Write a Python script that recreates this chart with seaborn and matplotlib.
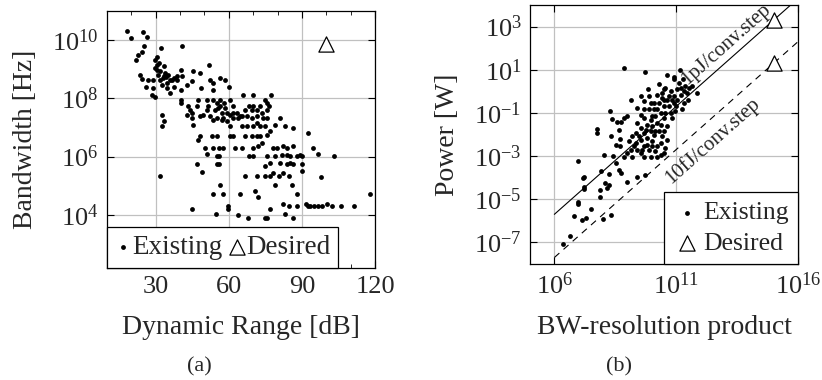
import numpy as np
import pandas as pd
import matplotlib
matplotlib.use("Agg")
import matplotlib.pyplot as plt
import matplotlib.ticker as mticker
import seaborn as sns

# ---------------- data: panel (a) ----------------
dr_existing = [
    18.2, 19.9, 24.9, 26.3, 25.1, 24.5, 22.9, 21.9, 32.1, 40.7, 29.9, 30.7, 31.5, 29.8, 30.4, 33.2, 33.8,
    23.6, 27.0, 25.9, 29.0, 28.4, 29.8, 31.8, 32.5, 34.5, 35.9, 33.2, 31.1, 40.3, 38.9, 40.9, 34.5, 40.3,
    37.3, 45.5, 48.0, 51.9, 44.8, 42.7, 52.3, 53.7, 56.4, 58.5, 59.9, 48.6, 53.7, 40.3, 40.3, 43.4, 44.1,
    42.7, 44.8, 45.5, 47.5, 46.8, 48.2, 44.8, 32.4, 33.2, 32.5, 31.8, 51.0, 51.6, 53.7, 55.0, 56.4, 54.3,
    57.0, 52.3, 55.0, 57.7, 53.7, 59.2, 60.5, 61.9, 63.3, 61.9, 64.7, 66.7, 68.1, 70.1, 71.5, 72.8, 74.9,
    75.6, 76.3, 77.2, 66.0, 70.1, 67.3, 69.4, 71.5, 74.2, 75.6, 65.3, 67.3, 70.1, 72.8, 74.9, 79.0, 81.0,
    83.1, 86.5, 60.5, 60.5, 61.9, 55.0, 52.9, 48.2, 47.5, 50.2, 53.7, 55.8, 57.8, 51.2, 55.0, 55.8, 55.0,
    55.8, 46.8, 49.1, 62.6, 65.3, 66.7, 69.4, 71.5, 72.8, 75.6, 77.0, 73.5, 72.1, 70.1, 68.1, 70.1, 75.6,
    78.3, 79.7, 82.4, 83.8, 86.5, 79.0, 81.7, 83.8, 85.1, 87.8, 89.2, 89.9, 77.0, 74.9, 81.0, 83.8, 85.1,
    86.5, 89.9, 89.9, 94.7, 92.6, 96.8, 103.0, 97.8, 66.7, 71.5, 74.9, 77.0, 78.3, 80.4, 82.4, 84.5, 79.0,
    85.9, 56.2, 53.7, 57.8, 64.7, 70.9, 71.9, 87.8, 117.8, 59.8, 59.8, 44.8, 54.8, 63.7, 67.8, 74.9, 75.6,
    76.7, 82.1, 83.2, 84.9, 86.3, 88.1, 91.8, 93.2, 94.8, 96.6, 98.4, 100.4, 102.4, 106.2, 111.4, 92.5,
    49.5, 50.9, 56.4, 58.0, 55.6, 58.3, 57.0, 60.5, 59.2, 61.9, 63.9, 65.3, 69.4, 73.5, 71.5, 75.6, 35.9,
    37.5, 38.6, 31.8, 30.4, 32.9, 34.3, 35.2, 36.6, 29.0, 24.2,
]
bw_existing_log = [
    10.32, 10.06, 10.26, 10.11, 9.79, 9.60, 9.49, 9.32, 9.71, 9.79, 9.32, 9.43, 9.20, 9.03, 8.97, 9.09, 8.86,
    8.80, 8.63, 8.40, 8.35, 8.12, 8.04, 8.63, 8.46, 8.52, 8.63, 8.75, 8.80, 8.97, 8.75, 8.75, 8.35, 8.29,
    8.40, 8.92, 8.86, 9.15, 8.58, 8.46, 8.63, 8.52, 8.69, 8.63, 8.40, 8.35, 8.29, 7.95, 7.83, 7.72, 7.61,
    7.44, 7.32, 7.09, 7.95, 7.72, 7.38, 7.49, 7.44, 7.21, 7.06, 5.33, 7.95, 7.72, 7.95, 7.83, 7.72, 7.61,
    7.49, 7.38, 7.32, 7.32, 7.26, 7.21, 7.95, 7.72, 7.49, 7.32, 7.38, 7.61, 7.72, 7.72, 7.61, 7.72, 7.95,
    7.83, 7.72, 8.12, 8.12, 8.12, 7.38, 7.32, 7.38, 7.32, 7.32, 7.04, 7.04, 7.04, 7.04, 7.04, 7.09, 7.32,
    7.04, 6.98, 7.04, 6.70, 6.70, 6.70, 6.70, 6.70, 6.58, 6.30, 6.30, 6.30, 6.30, 6.10, 6.01, 6.01, 5.73,
    5.73, 5.76, 5.48, 6.30, 6.30, 6.70, 6.70, 6.70, 6.70, 6.75, 6.87, 6.47, 6.35, 6.30, 6.01, 6.01, 6.01,
    6.30, 6.30, 6.35, 6.30, 6.35, 6.01, 6.07, 6.07, 6.01, 6.01, 6.07, 6.01, 5.78, 5.67, 5.78, 5.73, 5.78,
    5.73, 5.73, 5.52, 6.30, 6.81, 6.10, 6.01, 5.30, 5.33, 5.33, 5.33, 5.33, 5.44, 5.33, 5.42, 5.33, 5.01,
    5.01, 5.01, 4.70, 4.70, 4.70, 4.81, 4.61, 4.70, 4.70, 4.32, 4.19, 4.19, 4.02, 3.99, 3.90, 3.90, 3.90,
    4.21, 4.39, 4.02, 4.30, 3.90, 4.30, 4.36, 4.32, 4.32, 4.32, 4.32, 4.39, 4.32, 4.32, 4.32, 4.30,
    7.44, 7.61, 7.95, 7.83, 7.66, 7.66, 7.26, 7.44, 7.49, 7.49, 7.32, 7.38, 7.61, 7.49, 7.15, 7.61, 8.18,
    8.69, 8.63, 8.92, 9.15, 8.69, 8.72, 8.80, 8.63, 8.63, 8.65,
]
dr_desired = [100.0]
bw_desired = [7e9]

# ---------------- data: panel (b) ----------------
prod_existing_log = [
    6.35, 6.65, 6.82, 7.12, 7.29, 7.50, 6.95, 6.95, 6.98, 7.16, 7.20, 7.20, 7.23, 7.87, 7.87, 7.99, 8.32,
    8.08, 8.14, 8.25, 7.91, 8.02, 8.26, 8.42, 8.53, 8.65, 8.72, 9.00, 9.41, 9.72, 7.77, 7.73, 8.29, 8.36,
    8.32, 8.59, 8.72, 8.66, 8.68, 8.55, 8.70, 8.86, 8.97, 8.86, 9.70, 9.13, 9.41, 9.86, 9.54, 9.68, 9.88,
    9.95, 10.09, 10.02, 10.22, 10.43, 10.56, 10.63, 10.90, 10.90, 11.15, 11.18, 11.38, 11.45, 11.65, 11.86,
    11.48, 11.31, 11.25, 11.01, 10.84, 10.97, 10.84, 10.63, 10.50, 10.63, 10.36, 10.22, 10.56, 10.36,
    10.20, 9.68, 9.54, 9.41, 9.27, 9.13, 9.00, 9.20, 8.86, 9.06, 9.20, 9.34, 9.54, 9.41, 9.68, 9.81, 9.95,
    9.81, 10.02, 10.09, 10.22, 10.15, 10.36, 10.50, 10.63, 10.70, 10.50, 10.29, 10.43, 10.02, 9.68, 9.54,
    9.68, 9.88, 10.09, 10.29, 10.43, 10.77, 11.04, 11.21, 11.04, 10.90, 10.77, 10.22, 9.95, 9.75, 9.47,
    9.34, 9.88, 10.15, 9.54, 10.29, 11.11, 11.28, 10.50, 10.02, 10.36, 10.56, 10.15, 9.81, 9.61, 9.95,
    10.50, 10.70, 10.90, 11.31, 11.52, 9.68, 10.50,
]
power_existing_log = [
    -7.08, -6.69, -5.78, -5.96, -5.88, -5.47, -3.25, -5.11, -5.22, -4.02, -3.99, -4.44, -4.53, -4.57, -4.88,
    -5.93, -5.73, -4.26, -4.46, -4.33, -3.71, -2.94, -3.84, -2.98, -3.33, -3.64, -3.79, -4.18, -3.95, -3.87,
    -1.93, -1.74, -0.92, -1.26, -2.09, -1.43, -1.43, -1.78, -2.21, -2.47, -2.55, -1.23, -1.12, 1.09, 0.89,
    -0.41, -0.77, 0.12, -0.22, -0.46, -0.22, -0.53, -0.84, -1.16, -0.15, -0.07, 0.16, 0.74, 0.67, 0.55,
    0.98, 0.16, 0.24, -0.07, 0.24, -0.07, -0.38, -0.53, -0.84, -0.66, -0.38, -0.92, -1.23, -1.62, -1.85,
    -2.24, -2.40, -2.55, -2.63, -2.94, -3.02, -3.02, -2.86, -2.71, -2.55, -2.71, -2.86, -3.02, -3.02, -2.32,
    -2.09, -1.93, -1.70, -1.47, -1.23, -1.54, -1.85, -2.16, -2.32, -2.01, -1.47, -1.16, -1.00, -0.69, -0.38,
    -0.69, -1.23, -1.85, -2.09, -2.55, -2.55, -2.24, -1.93, -0.84, -0.53, -0.53, -0.30, 0.01, 0.09, -0.15,
    -0.38, -0.53, -1.00, -0.84, -1.31, -1.78, -2.09, -2.40, -2.71, -2.78, -1.08, 0.32, 0.40, 0.55, 0.09,
    -1.62, -1.54, -1.00, -1.85, -2.47, -2.71, -3.02, -2.86, -0.22, -0.22, 0.01, 0.16, -0.84, -0.38,
]
prod_desired = [1e15, 1e15]
power_desired = [2e3, 2e1]

energy_levels = [2e-12, 2e-14]        # P = E * product  (1 pJ and 10 fJ per conversion step, Nyquist)
energy_labels = ["1pJ/conv.step", "10fJ/conv.step"]
line_x = [1e6, 1e16]

# ---------------- style ----------------
sns.set_theme(style="white")
plt.rcParams["font.family"] = ["Liberation Serif", "DejaVu Serif"]
plt.rcParams["mathtext.fontset"] = "custom"
plt.rcParams["mathtext.rm"] = "Liberation Serif"
plt.rcParams["mathtext.it"] = "Liberation Serif:italic"
plt.rcParams["axes.unicode_minus"] = True

FS = 20      # axis labels
TFS = 19     # tick labels
fig = plt.figure(figsize=(8.22, 3.80), dpi=100)
axa = fig.add_axes([107 / 822, 1 - 268 / 380, 268 / 822, 257 / 380])
axb = fig.add_axes([530 / 822, 1 - 264 / 380, 268 / 822, 259 / 380])

grid_kw = dict(color="#c0c0c0", linewidth=0.9)

# ---------------- panel (a) ----------------
dfa = pd.DataFrame({"dr": dr_existing, "bw": np.power(10.0, bw_existing_log)})
dfa_d = pd.DataFrame({"dr": dr_desired, "bw": bw_desired})
sns.scatterplot(data=dfa, x="dr", y="bw", ax=axa, color="black", marker="o", s=12,
                linewidth=0, label="Existing", zorder=3)
sns.scatterplot(data=dfa_d, x="dr", y="bw", ax=axa, color="white", edgecolor="black",
                marker="^", s=120, linewidth=0.9, label="Desired", zorder=3)
axa.set_yscale("log")
axa.set_xlim(10, 120)
axa.set_ylim(10 ** 2.18, 10 ** 10.99)
axa.xaxis.set_major_locator(mticker.FixedLocator([30, 60, 90, 120]))
axa.xaxis.set_minor_locator(mticker.MultipleLocator(10))
axa.yaxis.set_major_locator(mticker.FixedLocator([1e4, 1e6, 1e8, 1e10]))
axa.yaxis.set_major_formatter(mticker.LogFormatterMathtext())
axa.yaxis.set_minor_locator(mticker.NullLocator())
axa.grid(True, which="major", **grid_kw)
axa.set_xlabel("Dynamic Range [dB]", fontsize=FS, labelpad=12)
axa.set_ylabel("Bandwidth [Hz]", fontsize=FS, labelpad=10)
leg = axa.legend(loc="lower left", ncol=2, fontsize=19.5, frameon=True, fancybox=False,
                 framealpha=1, edgecolor="black", borderaxespad=0, handletextpad=0.05,
                 columnspacing=0.2, handlelength=0.6, borderpad=0.3)
leg.get_frame().set_linewidth(0.9)

# ---------------- panel (b) ----------------
dfb = pd.DataFrame({"prod": np.power(10.0, prod_existing_log), "power": np.power(10.0, power_existing_log)})
dfb_d = pd.DataFrame({"prod": prod_desired, "power": power_desired})
sns.scatterplot(data=dfb, x="prod", y="power", ax=axb, color="black", marker="o", s=12,
                linewidth=0, label="Existing", zorder=3)
sns.scatterplot(data=dfb_d, x="prod", y="power", ax=axb, color="white", edgecolor="black",
                marker="^", s=120, linewidth=0.9, label="Desired", zorder=4)
for e, ls in zip(energy_levels, ["-", (0, (6, 5))]):
    lx = np.array(line_x)
    sns.lineplot(x=lx, y=e * lx, ax=axb, color="black", linewidth=0.8, linestyle=ls, zorder=2)
axb.set_xscale("log")
axb.set_yscale("log")
axb.set_xlim(1e5, 1e16)
axb.set_ylim(1e-8, 1e4)
axb.xaxis.set_major_locator(mticker.FixedLocator([1e6, 1e11, 1e16]))
axb.xaxis.set_major_formatter(mticker.LogFormatterMathtext())
axb.xaxis.set_minor_locator(mticker.NullLocator())
axb.yaxis.set_major_locator(mticker.FixedLocator([1e-7, 1e-5, 1e-3, 1e-1, 1e1, 1e3]))
axb.yaxis.set_major_formatter(mticker.LogFormatterMathtext())
axb.yaxis.set_minor_locator(mticker.NullLocator())
axb.grid(True, which="major", **grid_kw)
axb.set_xlabel("BW-resolution product", fontsize=FS, labelpad=12)
axb.set_ylabel("Power [W]", fontsize=FS, labelpad=10)

# rotated line labels
fig.canvas.draw()
p0 = axb.transData.transform((1e6, 1e-6))
p1 = axb.transData.transform((1e16, 1e4))
ang = np.degrees(np.arctan2(p1[1] - p0[1], p1[0] - p0[0]))
axb.text(10 ** 13.05, 10 ** 2.15, energy_labels[0], rotation=ang, fontsize=15,
         ha="center", va="center", rotation_mode="anchor")
axb.text(10 ** 12.50, 10 ** -2.30, energy_labels[1], rotation=ang, fontsize=15,
         ha="center", va="center", rotation_mode="anchor")

legb = axb.legend(loc="lower right", ncol=1, fontsize=18.5, frameon=True, fancybox=False,
                  framealpha=1, edgecolor="black", borderaxespad=0, handletextpad=0.1,
                  handlelength=1.1, borderpad=0.35, labelspacing=0.3)
legb.get_frame().set_linewidth(0.9)

for ax in (axa, axb):
    for sp in ax.spines.values():
        sp.set_color("black")
        sp.set_linewidth(0.9)
    ax.tick_params(which="both", direction="in", top=True, right=True, bottom=True, left=True,
                   labelsize=TFS, color="black")
    ax.tick_params(which="major", length=5, width=0.8, pad=6)
    ax.tick_params(which="minor", length=3, width=0.6)
    ax.set_axisbelow(True)

fig.text(199 / 822, 1 - 367 / 380, "(a)", fontsize=16, ha="center", va="center")
fig.text(619 / 822, 1 - 367 / 380, "(b)", fontsize=16, ha="center", va="center")

fig.savefig("out.png", dpi=100)
